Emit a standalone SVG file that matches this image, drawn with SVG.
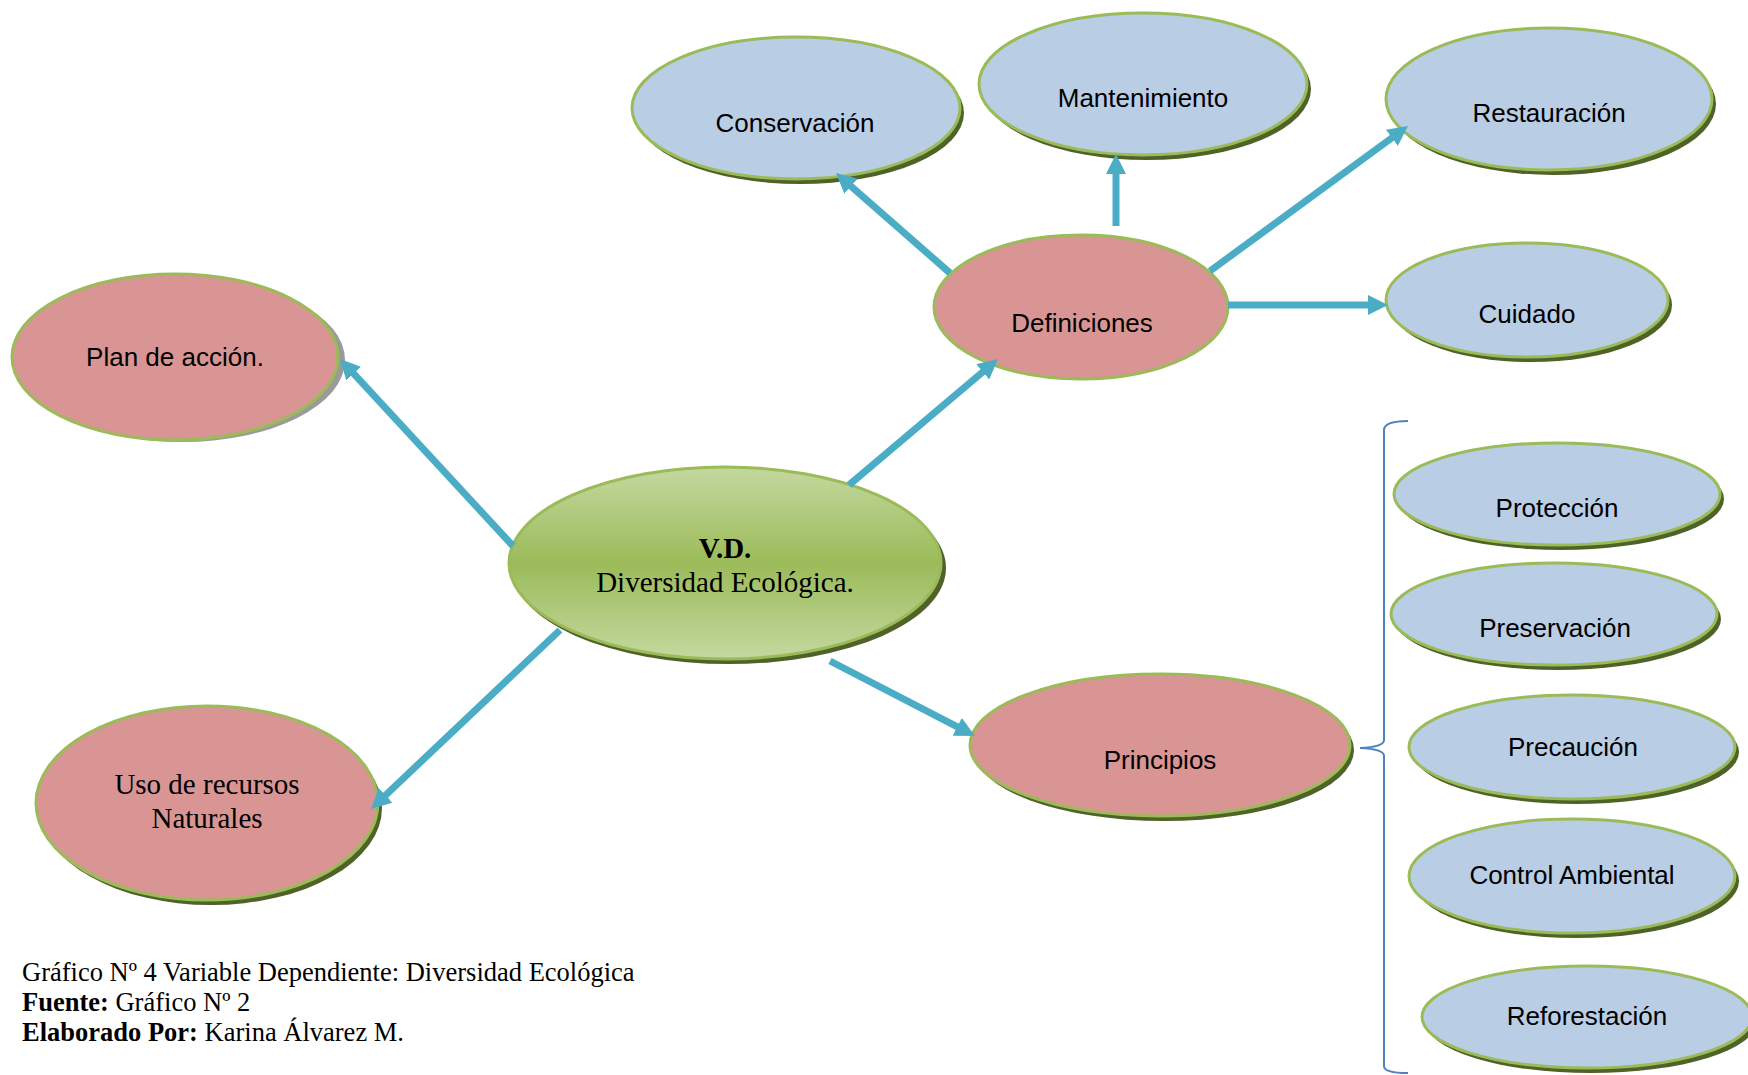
<svg xmlns="http://www.w3.org/2000/svg" width="1748" height="1075" viewBox="0 0 1748 1075">
<defs>
<linearGradient id="gc" x1="0" y1="0" x2="0" y2="1">
<stop offset="0" stop-color="#c4d89f"/>
<stop offset="0.5" stop-color="#9bbb59"/>
<stop offset="1" stop-color="#c4d89f"/>
</linearGradient>
<marker id="ah" markerUnits="userSpaceOnUse" markerWidth="20" markerHeight="20" refX="4" refY="10" orient="auto">
<path d="M0,0 L20,10 L0,20 z" fill="#4bacc6"/>
</marker>
<style>
.sh{fill:#4f6228}
.shg{fill:#9a9a9a}
.blue{fill:#b9cde5;stroke:#9bbb59;stroke-width:3}
.pink{fill:#d99594;stroke:#9bbb59;stroke-width:3}
.ctr{fill:url(#gc);stroke:#9bbb59;stroke-width:3}
.t{font-family:"Liberation Sans",Arial,sans-serif;font-size:26px;fill:#000;text-anchor:middle}
.ts{font-family:"Liberation Serif","Times New Roman",serif;font-size:29px;fill:#000;text-anchor:middle}
.f{font-family:"Liberation Serif","Times New Roman",serif;font-size:26.5px;fill:#000}
.c{stroke:#4bacc6;stroke-width:7;fill:none;marker-end:url(#ah)}
</style>
</defs>
<rect width="1748" height="1075" fill="#fff"/>

<g id="center">
<ellipse class="sh" cx="729" cy="568" rx="217" ry="96"/>
<ellipse class="ctr" cx="725" cy="563" rx="216" ry="96"/>
<text class="ts" x="725" y="558" font-weight="bold">V.D.</text>
<text class="ts" x="725" y="592">Diversidad Ecológica.</text>
</g>

<g id="plan">
<ellipse class="shg" cx="182" cy="360" rx="163" ry="82"/>
<ellipse class="pink" cx="175" cy="357" rx="163" ry="83"/>
<text class="t" x="175" y="366">Plan de acción.</text>
</g>

<g id="uso">
<ellipse class="sh" cx="211" cy="808" rx="171" ry="97"/>
<ellipse class="pink" cx="207" cy="803" rx="171" ry="97"/>
<text class="ts" x="207" y="794">Uso de recursos</text>
<text class="ts" x="207" y="828">Naturales</text>
</g>

<g id="definiciones">
<ellipse class="pink" cx="1081" cy="307" rx="147" ry="72"/>
<text class="t" x="1082" y="332">Definiciones</text>
</g>

<g id="principios">
<ellipse class="sh" cx="1164" cy="750" rx="190" ry="71"/>
<ellipse class="pink" cx="1160" cy="745" rx="190" ry="71"/>
<text class="t" x="1160" y="769">Principios</text>
</g>

<g id="conservacion">
<ellipse class="sh" cx="800" cy="113" rx="164" ry="71"/>
<ellipse class="blue" cx="796" cy="108" rx="164" ry="71"/>
<text class="t" x="795" y="132">Conservación</text>
</g>

<g id="mantenimiento">
<ellipse class="sh" cx="1147" cy="89" rx="164" ry="71"/>
<ellipse class="blue" cx="1143" cy="84" rx="164" ry="71"/>
<text class="t" x="1143" y="107">Mantenimiento</text>
</g>

<g id="restauracion">
<ellipse class="sh" cx="1553" cy="104" rx="163" ry="71"/>
<ellipse class="blue" cx="1549" cy="99" rx="163" ry="71"/>
<text class="t" x="1549" y="122">Restauración</text>
</g>

<g id="cuidado">
<ellipse class="sh" cx="1531" cy="305" rx="141" ry="57"/>
<ellipse class="blue" cx="1527" cy="300" rx="141" ry="57"/>
<text class="t" x="1527" y="323">Cuidado</text>
</g>

<g id="proteccion">
<ellipse class="sh" cx="1561" cy="499" rx="163" ry="51"/>
<ellipse class="blue" cx="1557" cy="494" rx="163" ry="51"/>
<text class="t" x="1557" y="517">Protección</text>
</g>

<g id="preservacion">
<ellipse class="sh" cx="1558" cy="619" rx="163" ry="51"/>
<ellipse class="blue" cx="1554" cy="614" rx="163" ry="51"/>
<text class="t" x="1555" y="637">Preservación</text>
</g>

<g id="precaucion">
<ellipse class="sh" cx="1576" cy="752" rx="163" ry="52"/>
<ellipse class="blue" cx="1572" cy="747" rx="163" ry="52"/>
<text class="t" x="1573" y="756">Precaución</text>
</g>

<g id="control">
<ellipse class="sh" cx="1576" cy="881" rx="163" ry="57"/>
<ellipse class="blue" cx="1572" cy="876" rx="163" ry="57"/>
<text class="t" x="1572" y="884">Control Ambiental</text>
</g>

<g id="reforestacion">
<ellipse class="sh" cx="1591" cy="1022" rx="165" ry="51"/>
<ellipse class="blue" cx="1587" cy="1017" rx="165" ry="51"/>
<text class="t" x="1587" y="1025">Reforestación</text>
</g>

<g id="connectors">
<line class="c" x1="849" y1="485" x2="985.8" y2="369.3"/>
<line class="c" x1="950" y1="273" x2="848" y2="183.6"/>
<line class="c" x1="1116" y1="226" x2="1116" y2="170"/>
<line class="c" x1="1210" y1="271" x2="1395.1" y2="135.5"/>
<line class="c" x1="1228" y1="305" x2="1372" y2="305"/>
<line class="c" x1="513" y1="546" x2="350.9" y2="370.7"/>
<line class="c" x1="560" y1="630" x2="382.6" y2="798"/>
<line class="c" x1="830" y1="661" x2="960.8" y2="728.6"/>
<path d="M1408,421 Q1384,421 1384,430 L1384,740 Q1384,747 1360,748 Q1384,749 1384,756 L1384,1066 Q1384,1073 1408,1073" fill="none" stroke="#4f81bd" stroke-width="2"/>
</g>

<g id="footer">
<text class="f" x="22" y="981">Gráfico Nº 4 Variable Dependiente: Diversidad Ecológica</text>
<text class="f" x="22" y="1011"><tspan font-weight="bold">Fuente:</tspan> Gráfico Nº 2</text>
<text class="f" x="22" y="1041"><tspan font-weight="bold">Elaborado Por:</tspan> Karina Álvarez M.</text>
</g>
</svg>
